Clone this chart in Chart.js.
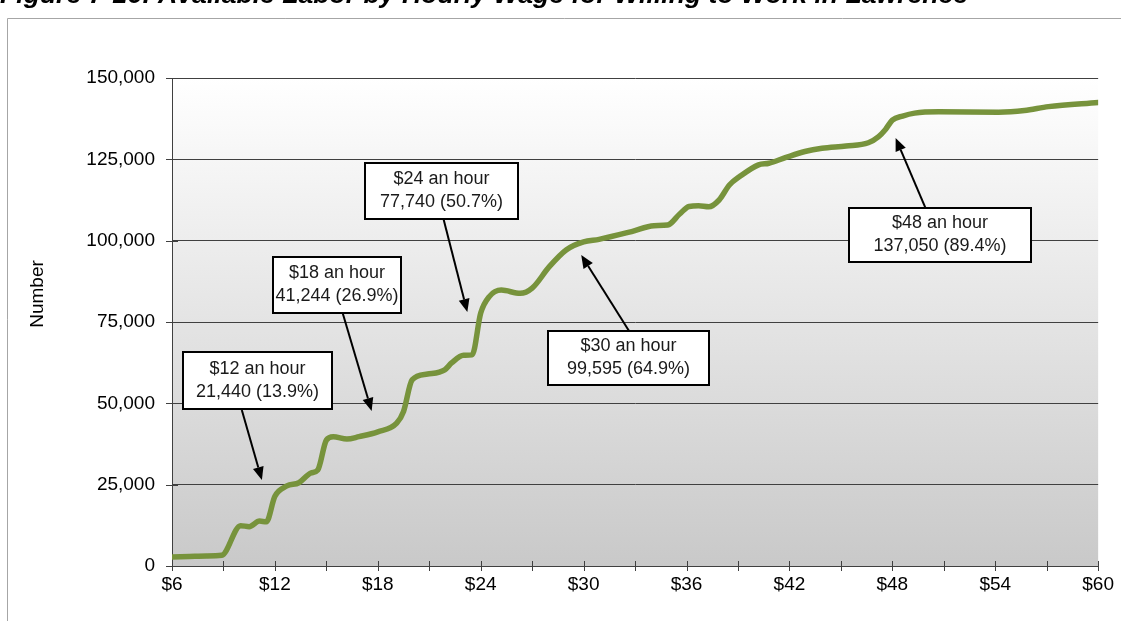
<!DOCTYPE html>
<html lang="en">
<head>
<meta charset="UTF-8" />
<title>Available Labor by Hourly Wage</title>
<script src="https://cdn.jsdelivr.net/npm/chart.js"></script>
<style>
  html, body { margin: 0; padding: 0; background: #fff; }
  #wrap { position: relative; width: 1121px; height: 621px; overflow: hidden; }
</style>
</head>
<body>
<div id="wrap"><canvas id="laborChart" width="1121" height="621"></canvas></div>
<script>
// hourly wage ($) and number of people willing to work at that wage
const wages = [6, 7, 8, 8.9, 10, 10.5, 11.1, 11.5, 12, 12.7, 13.4, 14.1, 14.5, 15, 15.4, 16.2, 16.9, 18,
  19.1, 19.5, 20, 20.9, 21.9, 22.3, 23, 23.5, 24, 24.5, 25.2, 26.3, 27, 28, 29, 30, 30.9, 32.8, 34.1,
  34.9, 35.6, 36.15, 36.7, 37.3, 37.9, 38.5, 39.1, 40.2, 40.8, 41.8, 42.9, 43.9, 45.3, 46.6, 47.2,
  47.6, 48, 48.6, 49.3, 50.7, 54.2, 55.7, 57.1, 60];
const workers = [2800, 2950, 3100, 3300, 12400, 12100, 13800, 13600, 21440, 24600, 25600, 28600, 29500,
  38700, 39750, 39000, 39750, 41244, 43900, 47500, 57200, 59000, 60300, 62400, 64800, 64900, 77740,
  82800, 84800, 83800, 85400, 92000, 97200, 99595, 100400, 102800, 104600, 104800, 108200, 110500,
  110700, 110400, 112500, 117100, 119700, 123300, 123800, 125600, 127400, 128400, 129100, 130100,
  132000, 134200, 137050, 138300, 139200, 139600, 139500, 140000, 141200, 142500];

// called-out wage levels
const callWages = [12, 18, 24, 30, 48];
const callCounts = [21440, 41244, 77740, 99595, 137050];
const callShares = [13.9, 26.9, 50.7, 64.9, 89.4];

const wageTicks = [6, 12, 18, 24, 30, 36, 42, 48, 54, 60];
const countTicks = [0, 25000, 50000, 75000, 100000, 125000, 150000];

const titleText = 'Figure 7-16: Available Labor by Hourly Wage for Willing to Work in Lawrence';
const FONT = '"Liberation Sans", Arial, sans-serif';

// page frame, cut-off title and shaded plot area
const backdrop = {
  id: 'backdrop',
  beforeDraw(chart) {
    const { ctx, chartArea: a } = chart;
    ctx.save();
    ctx.fillStyle = '#fff';
    ctx.fillRect(0, 0, chart.width, chart.height);

    ctx.strokeStyle = '#a6a6a6';
    ctx.lineWidth = 1;
    ctx.beginPath();
    ctx.moveTo(7.5, chart.height);
    ctx.lineTo(7.5, 18.5);
    ctx.lineTo(chart.width, 18.5);
    ctx.stroke();

    ctx.fillStyle = '#000';
    ctx.font = 'italic bold 19px ' + FONT;
    const size = 19 * 968 / ctx.measureText(titleText).width;
    ctx.font = 'italic bold ' + size.toFixed(1) + 'px ' + FONT;
    ctx.textBaseline = 'alphabetic';
    ctx.fillText(titleText, 0, 3);

    const g = ctx.createLinearGradient(0, a.top, 0, a.bottom);
    g.addColorStop(0, '#ffffff');
    g.addColorStop(1, '#c9c9c9');
    ctx.fillStyle = g;
    ctx.fillRect(a.left, a.top, a.right - a.left, a.bottom - a.top);

    // y axis title
    ctx.save();
    ctx.translate(38, 294);
    ctx.rotate(-Math.PI / 2);
    ctx.fillStyle = '#000';
    ctx.font = '19px ' + FONT;
    ctx.textAlign = 'center';
    ctx.textBaseline = 'middle';
    ctx.fillText('Number', 0, 0);
    ctx.restore();
    ctx.restore();
  }
};

// tick marks crossing both axes
const axisTicks = {
  id: 'axisTicks',
  afterDraw(chart) {
    const { ctx, chartArea: a, scales: { x, y } } = chart;
    ctx.save();
    ctx.fillStyle = '#404040';
    x.ticks.forEach(t => {
      const px = Math.round(x.getPixelForValue(t.value));
      ctx.fillRect(px, a.bottom - 5, 1, 10);
    });
    countTicks.forEach(v => {
      const py = Math.round(y.getPixelForValue(v));
      ctx.fillRect(a.left - 6, py, 12, 1);
    });
    ctx.restore();
  }
};

// boxed labels with arrows pointing at the curve
const callouts = {
  id: 'callouts',
  afterDraw(chart, args, opts) {
    const { ctx, scales: { x, y } } = chart;
    ctx.save();
    opts.items.forEach((c, i) => {
      const bx = x.getPixelForValue(c.box[0]);
      const by = y.getPixelForValue(c.box[1]);
      const fx = x.getPixelForValue(c.from[0]);
      const fy = y.getPixelForValue(c.from[1]);
      const tx = x.getPixelForValue(c.tip[0]);
      const ty = y.getPixelForValue(c.tip[1]);
      const ang = Math.atan2(ty - fy, tx - fx);
      const head = 13, half = 5.5;

      ctx.strokeStyle = '#000';
      ctx.fillStyle = '#000';
      ctx.lineWidth = 2;
      ctx.beginPath();
      ctx.moveTo(fx, fy);
      ctx.lineTo(tx - head * Math.cos(ang), ty - head * Math.sin(ang));
      ctx.stroke();
      ctx.beginPath();
      ctx.moveTo(tx, ty);
      ctx.lineTo(tx - head * Math.cos(ang) + half * Math.sin(ang), ty - head * Math.sin(ang) - half * Math.cos(ang));
      ctx.lineTo(tx - head * Math.cos(ang) - half * Math.sin(ang), ty - head * Math.sin(ang) + half * Math.cos(ang));
      ctx.closePath();
      ctx.fill();

      const left = Math.round(bx - c.w / 2), top = Math.round(by - c.h / 2);
      ctx.fillStyle = '#fff';
      ctx.fillRect(left, top, c.w, c.h);
      ctx.strokeRect(left, top, c.w, c.h);

      ctx.fillStyle = '#1a1a1a';
      ctx.font = '18px ' + FONT;
      ctx.textAlign = 'center';
      ctx.textBaseline = 'middle';
      ctx.fillText('$' + callWages[i] + ' an hour', left + c.w / 2, top + c.h / 2 - 11.5);
      ctx.fillText(callCounts[i].toLocaleString('en-US') + ' (' + callShares[i].toFixed(1) + '%)',
        left + c.w / 2, top + c.h / 2 + 11.5);
    });
    ctx.restore();
  }
};

new Chart(document.getElementById('laborChart'), {
  type: 'line',
  data: {
    datasets: [{
      label: 'Available labor',
      data: wages.map((w, i) => ({ x: w, y: workers[i] })),
      borderColor: '#77933c',
      borderWidth: 5.5,
      borderCapStyle: 'round',
      pointRadius: 0,
      cubicInterpolationMode: 'monotone',
      fill: false
    }]
  },
  options: {
    responsive: false,
    animation: false,
    layout: { padding: { top: 78, right: 16, bottom: 0, left: 0 } },
    plugins: {
      legend: { display: false },
      tooltip: { enabled: false },
      callouts: {
        items: [
          { box: [10.98, 57020], w: 149, h: 57, from: [10.07, 47950], tip: [11.24, 26440] },
          { box: [15.6, 86380], w: 128, h: 56, from: [15.95, 77770], tip: [17.64, 47650] },
          { box: [21.74, 115280], w: 153, h: 56, from: [21.83, 106670], tip: [23.22, 78080] },
          { box: [32.62, 63940], w: 161, h: 54, from: [32.65, 72240], tip: [29.86, 95600] },
          { box: [50.75, 101750], w: 182, h: 54, from: [49.93, 110050], tip: [48.19, 131570] }
        ]
      }
    },
    scales: {
      x: {
        type: 'linear',
        min: 6,
        max: 60,
        afterFit: s => { s.height = 55; },
        ticks: {
          stepSize: 3,
          autoSkip: false,
          maxRotation: 0,
          padding: 7,
          color: '#000',
          font: { family: FONT, size: 19 },
          callback: v => wageTicks.includes(v) ? '$' + v : ''
        },
        grid: { drawOnChartArea: false, drawTicks: false },
        border: { color: '#404040', width: 1 }
      },
      y: {
        min: 0,
        max: 150000,
        afterFit: s => { s.width = 172; },
        afterBuildTicks: s => { s.ticks = countTicks.map(v => ({ value: v })); },
        ticks: {
          padding: 17,
          color: '#000',
          font: { family: FONT, size: 19 },
          callback: v => v.toLocaleString('en-US')
        },
        grid: { color: '#404040', lineWidth: 1, drawTicks: false },
        border: { color: '#404040', width: 1 }
      }
    }
  },
  plugins: [backdrop, axisTicks, callouts]
});
</script>
</body>
</html>
